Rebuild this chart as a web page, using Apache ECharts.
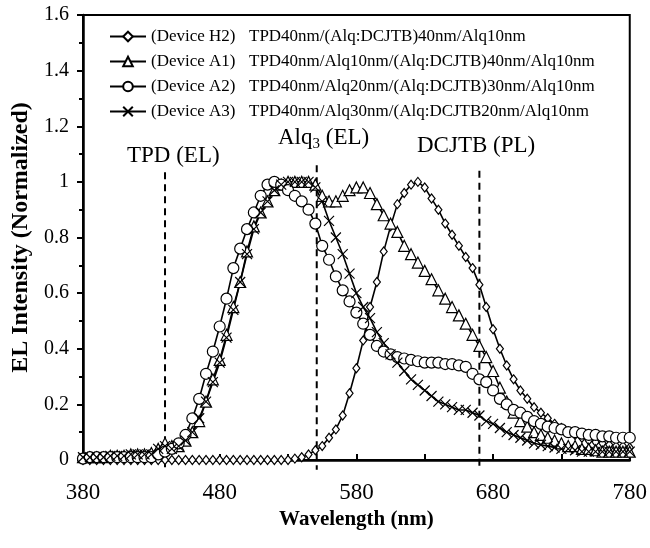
<!DOCTYPE html>
<html>
<head>
<meta charset="utf-8">
<script src="https://cdn.jsdelivr.net/npm/echarts@6/dist/echarts.min.js"></script>
<style>
  html, body { margin: 0; padding: 0; background: #fff; }
  #chart { width: 650px; height: 548px; }
</style>
</head>
<body>
<div id="chart"></div>
<script>
// wavelength grid (nm), every 5 nm from 380 to 780
var wavelengths = [];
for (var w = 380; w <= 780; w += 5) wavelengths.push(w);

var deviceLabels = ['(Device H2)', '(Device A1)', '(Device A2)', '(Device A3)'];
var stackLabels = [
  'TPD40nm/(Alq:DCJTB)40nm/Alq10nm',
  'TPD40nm/Alq10nm/(Alq:DCJTB)40nm/Alq10nm',
  'TPD40nm/Alq20nm/(Alq:DCJTB)30nm/Alq10nm',
  'TPD40nm/Alq30nm/(Alq:DCJTB20nm/Alq10nm'
];

// normalized EL intensity
var deviceH2 = [
  0, 0, 0, 0, 0, 0, 0, 0, 0, 0,
  0, 0, 0, 0, 0, 0, 0, 0, 0, 0,
  0, 0, 0, 0, 0, 0, 0, 0, 0, 0,
  0, 0.005, 0.01, 0.02, 0.035, 0.05, 0.08, 0.11, 0.16, 0.24,
  0.33, 0.43, 0.55, 0.64, 0.75, 0.84, 0.92, 0.96, 0.99, 1.0,
  0.98, 0.94, 0.90, 0.85, 0.81, 0.77, 0.73, 0.69, 0.63, 0.55,
  0.47, 0.40, 0.34, 0.29, 0.25, 0.22, 0.19, 0.17, 0.15, 0.13,
  0.115, 0.10, 0.09, 0.08, 0.07, 0.065, 0.06, 0.055, 0.05, 0.05,
  0.045
];
var deviceA1 = [
  0.01, 0.01, 0.01, 0.01, 0.015, 0.015, 0.015, 0.02, 0.02, 0.02,
  0.025, 0.04, 0.06, 0.05, 0.05, 0.07, 0.10, 0.14, 0.21, 0.29,
  0.36, 0.45, 0.55, 0.64, 0.75, 0.84, 0.89, 0.93, 0.97, 0.99,
  1.0, 1.0, 1.0, 1.0, 0.99, 0.95, 0.93, 0.93, 0.95, 0.97,
  0.98, 0.98, 0.96, 0.92, 0.88, 0.85, 0.82, 0.77, 0.74, 0.71,
  0.68, 0.65, 0.61, 0.58, 0.55, 0.52, 0.49, 0.45, 0.41, 0.37,
  0.32, 0.26, 0.21, 0.17, 0.14, 0.12, 0.10, 0.09, 0.08, 0.07,
  0.06, 0.05, 0.05, 0.04, 0.04, 0.035, 0.03, 0.03, 0.03, 0.03,
  0.03
];
var deviceA2 = [
  0.005, 0.01, 0.01, 0.01, 0.01, 0.01, 0.01, 0.01, 0.01, 0.01,
  0.01, 0.02, 0.03, 0.04, 0.06, 0.09, 0.15, 0.22, 0.31, 0.39,
  0.48, 0.58, 0.69, 0.76, 0.83, 0.89, 0.95, 0.99, 1.0, 0.99,
  0.97, 0.95, 0.93, 0.90, 0.85, 0.77, 0.72, 0.66, 0.61, 0.57,
  0.53, 0.49, 0.45, 0.41, 0.39, 0.38, 0.37, 0.365, 0.36, 0.355,
  0.35, 0.35, 0.35, 0.345, 0.345, 0.34, 0.335, 0.31, 0.29, 0.28,
  0.25, 0.22, 0.20, 0.18, 0.17, 0.155, 0.14, 0.13, 0.12, 0.115,
  0.11, 0.10, 0.10, 0.095, 0.09, 0.09, 0.085, 0.085, 0.08, 0.08,
  0.08
];
var deviceA3 = [
  0.01, 0.01, 0.01, 0.01, 0.015, 0.015, 0.015, 0.02, 0.02, 0.02,
  0.02, 0.04, 0.05, 0.04, 0.05, 0.07, 0.10, 0.15, 0.21, 0.28,
  0.35, 0.44, 0.54, 0.64, 0.74, 0.83, 0.89, 0.93, 0.97, 0.99,
  1.0, 1.0, 1.0, 1.0, 0.98, 0.93, 0.86, 0.80, 0.74, 0.67,
  0.60, 0.55, 0.51, 0.46, 0.42, 0.38, 0.35, 0.32, 0.29, 0.27,
  0.25, 0.23, 0.21, 0.20, 0.19, 0.18, 0.18, 0.17, 0.16, 0.14,
  0.13, 0.115, 0.10, 0.09, 0.08, 0.07, 0.06, 0.055, 0.05, 0.045,
  0.04, 0.04, 0.035, 0.03, 0.03, 0.03, 0.03, 0.03, 0.03, 0.03,
  0.03
];

// reference wavelengths (dashed lines): position, top and bottom end
var refLines = [440, 551, 670];
var refTops = [1.035, 1.06, 1.04];
var refBottom = -0.035;

function pairs(ys) {
  return wavelengths.map(function (x, i) { return [x, ys[i]]; });
}

var crossPath = 'path://M0,0L10,10M10,0L0,10';
var serif = '"Liberation Serif", "Times New Roman", serif';

function makeSeries(name, ys, symbol, size) {
  return {
    name: name,
    type: 'line',
    data: pairs(ys),
    symbol: symbol,
    symbolSize: size,
    showAllSymbol: true,
    lineStyle: { color: '#000', width: 1.6 },
    itemStyle: { color: symbol === crossPath ? 'none' : '#fff', borderColor: '#000', borderWidth: 1.2 },
    emphasis: { disabled: true }
  };
}

var chart = echarts.init(document.getElementById('chart'));

var series = [
  makeSeries(deviceLabels[0], deviceH2, 'diamond', [7, 9]),
  makeSeries(deviceLabels[1], deviceA1, 'triangle', 11),
  makeSeries(deviceLabels[2], deviceA2, 'circle', 11),
  makeSeries(deviceLabels[3], deviceA3, crossPath, 10)
];

refLines.forEach(function (x, i) {
  series.push({
    name: 'ref' + i,
    type: 'line',
    clip: false,
    silent: true,
    symbol: 'none',
    data: [[x, refTops[i]], [x, refBottom]],
    lineStyle: { color: '#000', type: [7, 5], width: 2 },
    z: 1
  });
});

chart.setOption({
  backgroundColor: '#fff',
  animation: false,
  textStyle: { fontFamily: serif },
  grid: {
    left: 83, right: 20, top: 15, bottom: 88,
    show: true, borderColor: '#000', borderWidth: 2, backgroundColor: 'transparent'
  },
  legend: {
    orient: 'vertical',
    left: 104,
    top: 23,
    itemGap: 8,
    itemWidth: 36,
    itemHeight: 12,
    data: deviceLabels,
    formatter: function (name) {
      var i = deviceLabels.indexOf(name);
      return '{d|' + name + '}{t|' + stackLabels[i] + '}';
    },
    textStyle: {
      fontFamily: serif, fontSize: 17, color: '#000',
      rich: {
        d: { fontFamily: serif, fontSize: 17, color: '#000', width: 98 },
        t: { fontFamily: serif, fontSize: 17, color: '#000' }
      }
    }
  },
  xAxis: {
    type: 'value',
    min: 380,
    max: 780,
    interval: 100,
    name: 'Wavelength (nm)',
    nameLocation: 'middle',
    nameGap: 48,
    nameTextStyle: { fontFamily: serif, fontSize: 21, fontWeight: 'bold', color: '#000' },
    axisLine: { lineStyle: { color: '#000', width: 2.5 } },
    axisTick: { inside: true, length: 6, lineStyle: { width: 2 } },
    minorTick: { show: true, splitNumber: 2, length: 6, lineStyle: { color: '#000', width: 2 } },
    axisLabel: { fontFamily: serif, fontSize: 23, color: '#000', margin: 21 },
    splitLine: { show: false }
  },
  yAxis: {
    type: 'value',
    min: 0,
    max: 1.6,
    interval: 0.2,
    name: 'EL Intensity (Normalized)',
    nameLocation: 'middle',
    nameGap: 50,
    nameTextStyle: { fontFamily: serif, fontSize: 24, fontWeight: 'bold', color: '#000' },
    axisLine: { lineStyle: { color: '#000', width: 2.5 } },
    axisTick: { length: 6, lineStyle: { width: 2 } },
    minorTick: { show: true, splitNumber: 2, length: 4, lineStyle: { color: '#000', width: 2 } },
    axisLabel: { fontFamily: serif, fontSize: 20, color: '#000', margin: 14 },
    splitLine: { show: false }
  },
  graphic: [
    { type: 'text', left: 127, top: 144, style: { text: 'TPD (EL)', font: '23px ' + serif, fill: '#000' } },
    { type: 'text', left: 278, top: 126, style: {
        text: '{n|Alq}{s|3}{n| (EL)}',
        rich: {
          n: { font: '23px ' + serif, fill: '#000', color: '#000' },
          s: { font: '15px ' + serif, fill: '#000', color: '#000', padding: [14, 0, 0, 0] }
        }
      } },
    { type: 'text', left: 417, top: 134, style: { text: 'DCJTB (PL)', font: '23px ' + serif, fill: '#000' } }
  ],
  series: series
});
</script>
</body>
</html>
